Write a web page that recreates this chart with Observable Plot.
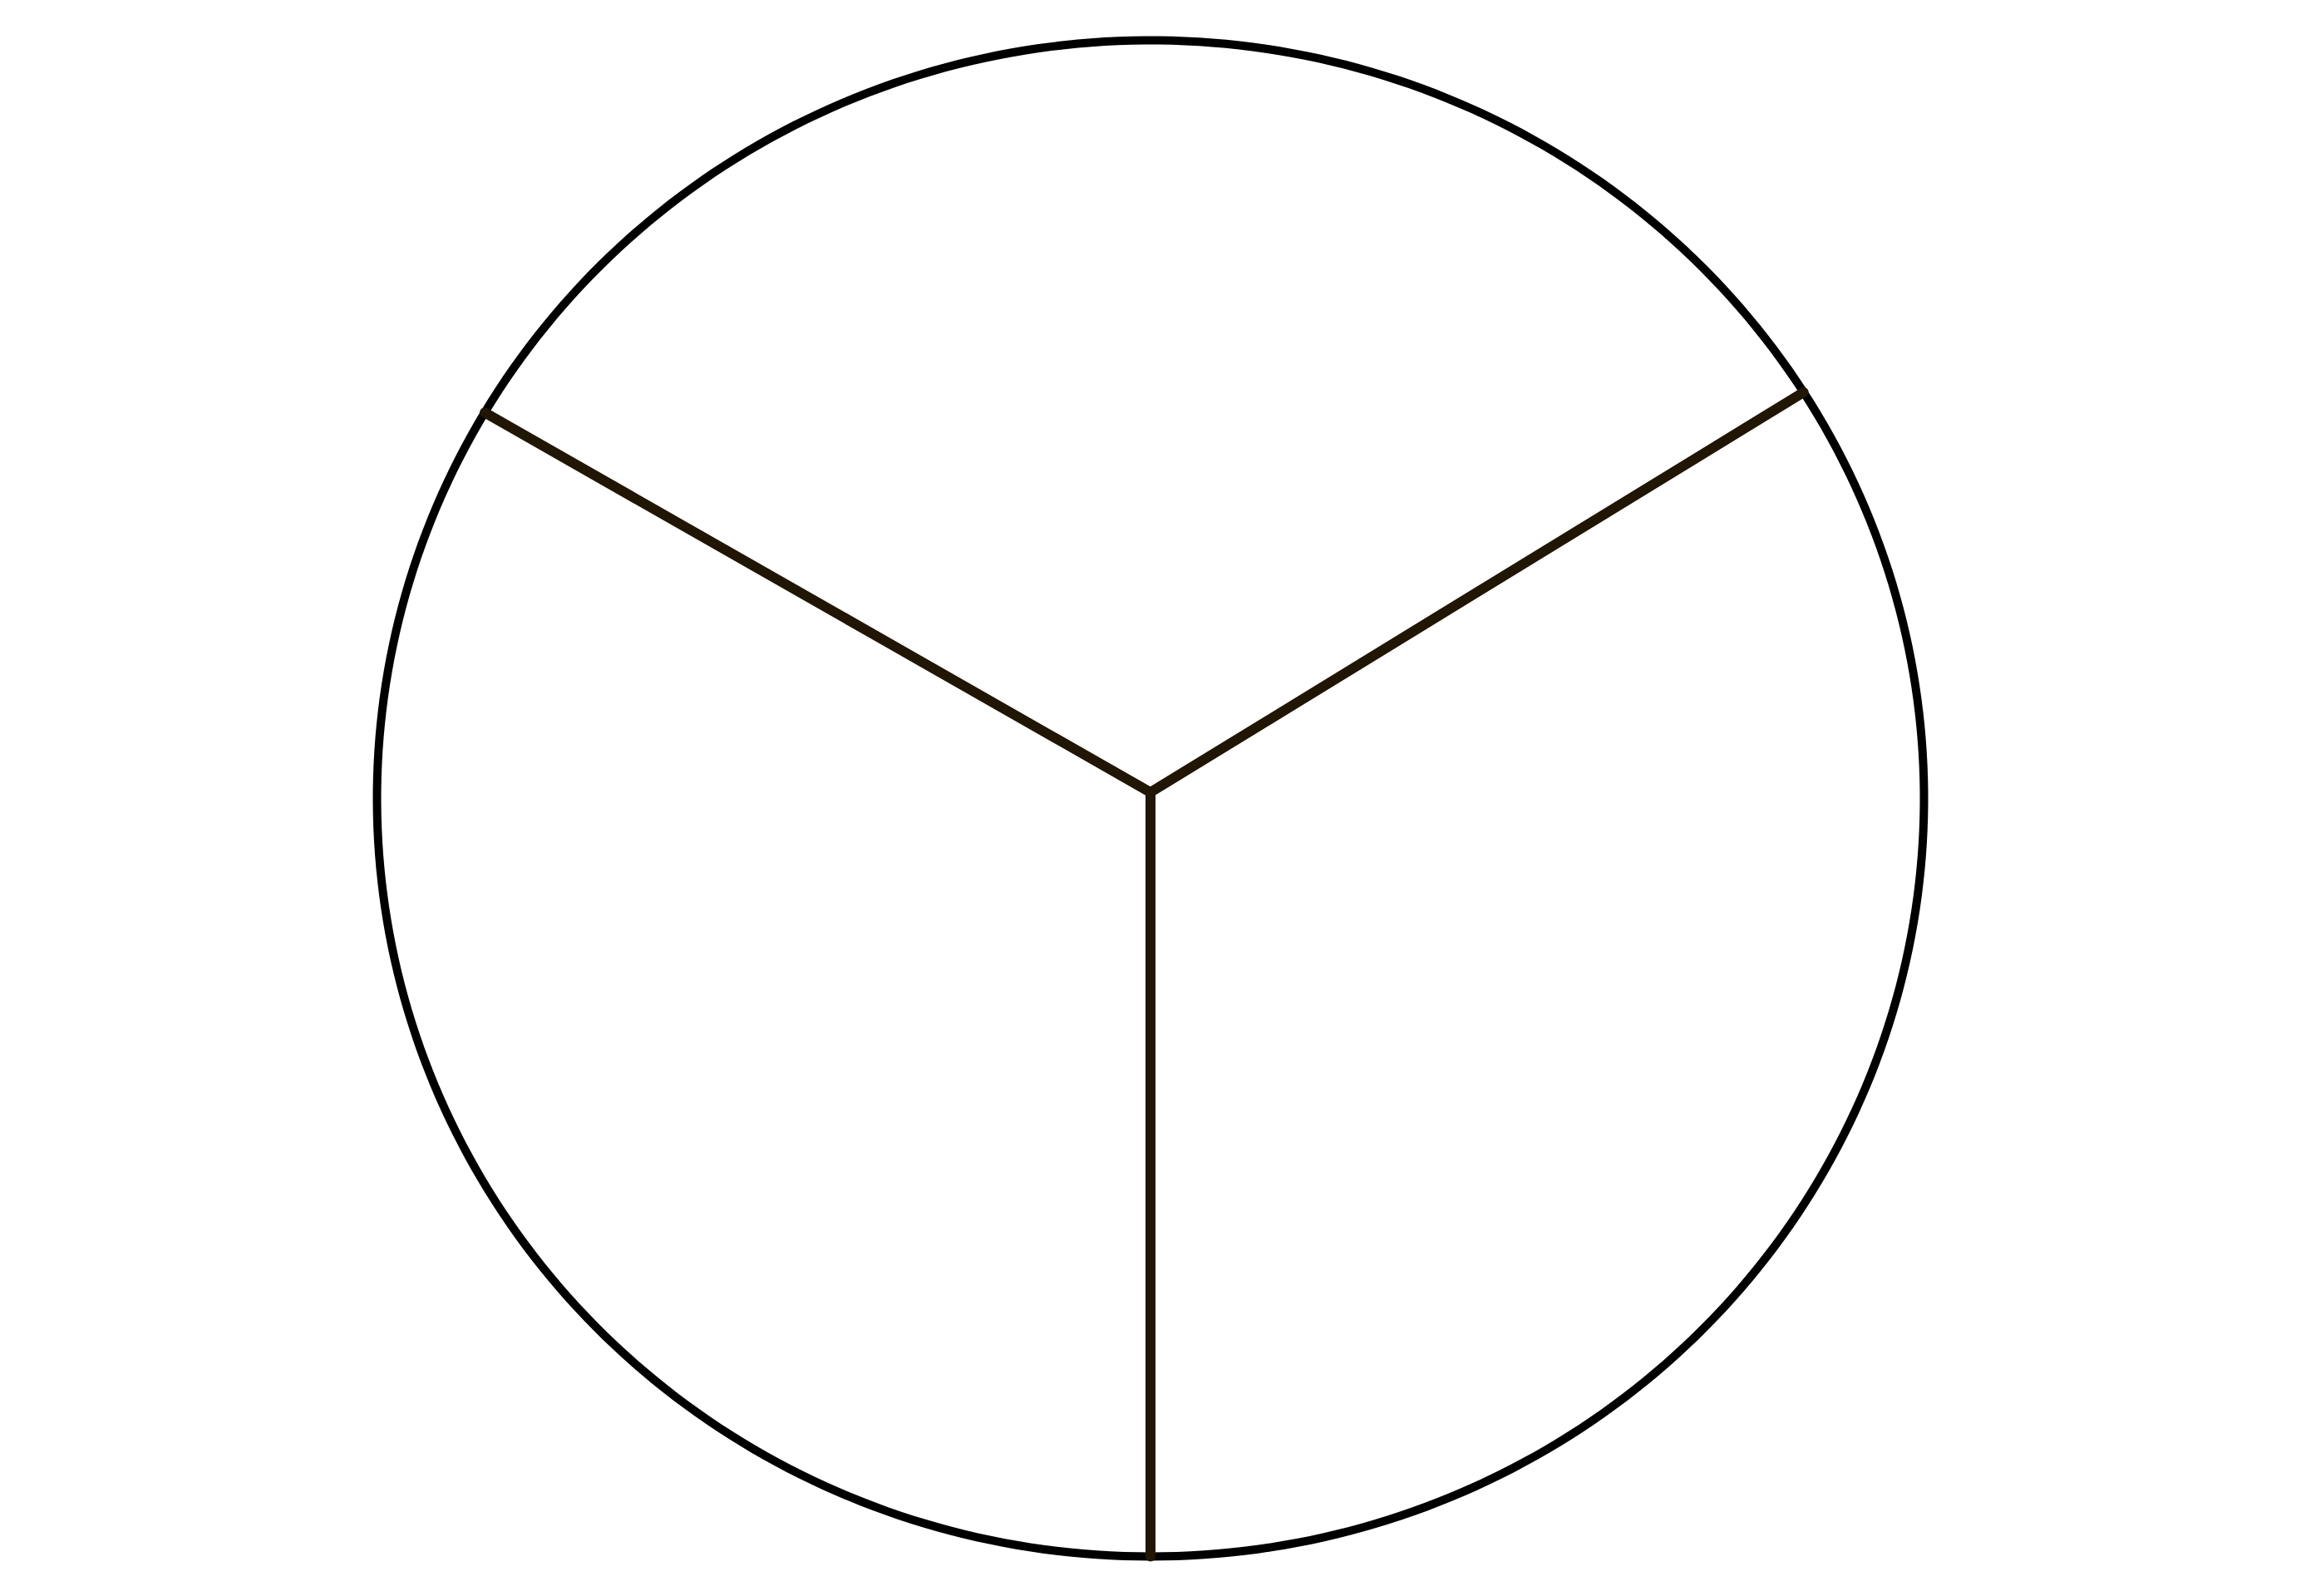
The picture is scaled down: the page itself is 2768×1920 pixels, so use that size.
<!DOCTYPE html>
<html>
<head>
<meta charset="utf-8">
<script src="https://cdn.jsdelivr.net/npm/d3@7"></script>
<script src="https://cdn.jsdelivr.net/npm/@observablehq/plot@0.6"></script>
<style>
  html, body { margin: 0; padding: 0; background: #ffffff; }
  #chart svg { display: block; }
</style>
</head>
<body>
<div id="chart"></div>
<script>
// ---- data ----
const categories = ["A", "B", "C"];
const values = [32.5, 34, 33.5];          // shares of the pie
const startAngleDeg = -59.4;              // first boundary, clockwise from 12 o'clock

// ---- build slices with d3.pie ----
const toRad = Math.PI / 180;
const pie = d3.pie().sort(null).value(d => d.value)
  .startAngle(startAngleDeg * toRad)
  .endAngle(startAngleDeg * toRad + 2 * Math.PI);
const slices = pie(categories.map((c, i) => ({category: c, value: values[i]})));

// radial boundary lines (one at each slice start), in unit-circle data space
const spokes = slices.map(s => ({
  category: s.data.category,
  x: Math.sin(s.startAngle),
  y: Math.cos(s.startAngle)
}));

// outer arc of each slice, sampled along its own angle span
const arcPts = slices.flatMap(s => {
  const n = Math.max(2, Math.ceil((s.endAngle - s.startAngle) / toRad));
  return d3.range(n + 1).map(k => {
    const a = s.startAngle + (s.endAngle - s.startAngle) * k / n;
    return {category: s.data.category, x: Math.sin(a), y: Math.cos(a)};
  });
});

const chart = Plot.plot({
  width: 2768,
  height: 1920,
  marginLeft: 453,
  marginRight: 454,
  marginTop: 48,
  marginBottom: 48,
  x: {domain: [-1, 1], axis: null},
  y: {domain: [-1, 1], axis: null},
  style: {background: "#ffffff"},
  marks: [
    Plot.line(arcPts, {x: "x", y: "y", z: "category", stroke: "#000000", strokeWidth: 10, strokeLinecap: "round"}),
    Plot.link(spokes, {x1: 0, y1: 0.008, x2: "x", y2: "y", stroke: "#211503", strokeWidth: 12, strokeLinecap: "round", strokeLinejoin: "round"})
  ]
});
document.getElementById("chart").appendChild(chart);
</script>
</body>
</html>
